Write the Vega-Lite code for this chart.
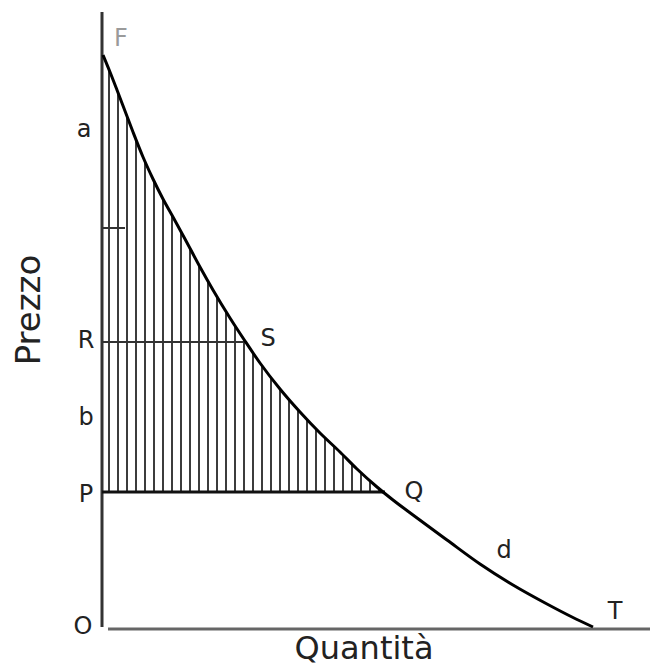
{
  "$schema": "https://vega.github.io/schema/vega-lite/v6.json",
  "width": 548,
  "height": 614,
  "autosize": {"type": "none"},
  "padding": {"left": 102, "top": 15, "right": 0, "bottom": 40},
  "background": "white",
  "config": {"view": {"stroke": null}},
  "datasets": {
    "curve": [
      {"x": 1, "y": 574}, {"x": 8, "y": 557}, {"x": 15, "y": 539}, {"x": 23, "y": 518},
      {"x": 31, "y": 497}, {"x": 41, "y": 472}, {"x": 51, "y": 450}, {"x": 61, "y": 430},
      {"x": 71, "y": 412}, {"x": 83, "y": 390}, {"x": 98, "y": 362},
      {"x": 111, "y": 339}, {"x": 128, "y": 311}, {"x": 143, "y": 288}, {"x": 158, "y": 266},
      {"x": 178, "y": 240}, {"x": 198, "y": 217}, {"x": 218, "y": 196}, {"x": 238, "y": 177},
      {"x": 255, "y": 160}, {"x": 275, "y": 142}, {"x": 291, "y": 129}, {"x": 311, "y": 114},
      {"x": 345, "y": 89}, {"x": 378, "y": 65}, {"x": 411, "y": 44},
      {"x": 445, "y": 25}, {"x": 470, "y": 12}, {"x": 491, "y": 2}
    ],
    "hatch": [
      {"x": 7, "y": 137, "yt": 559}, {"x": 16, "y": 137, "yt": 537}, {"x": 25, "y": 137, "yt": 513},
      {"x": 34, "y": 137, "yt": 490}, {"x": 43, "y": 137, "yt": 467}, {"x": 52, "y": 137, "yt": 448},
      {"x": 61, "y": 137, "yt": 430}, {"x": 70, "y": 137, "yt": 414}, {"x": 79, "y": 137, "yt": 397},
      {"x": 88, "y": 137, "yt": 381}, {"x": 97, "y": 137, "yt": 364}, {"x": 106, "y": 137, "yt": 348},
      {"x": 115, "y": 137, "yt": 332}, {"x": 124, "y": 137, "yt": 317}, {"x": 133, "y": 137, "yt": 303},
      {"x": 142, "y": 137, "yt": 289}, {"x": 151, "y": 137, "yt": 276}, {"x": 160, "y": 137, "yt": 263},
      {"x": 169, "y": 137, "yt": 251}, {"x": 178, "y": 137, "yt": 240}, {"x": 187, "y": 137, "yt": 229},
      {"x": 196, "y": 137, "yt": 219}, {"x": 205, "y": 137, "yt": 209}, {"x": 214, "y": 137, "yt": 200},
      {"x": 223, "y": 137, "yt": 191}, {"x": 232, "y": 137, "yt": 182}, {"x": 241, "y": 137, "yt": 174},
      {"x": 250, "y": 137, "yt": 165}, {"x": 259, "y": 137, "yt": 157}, {"x": 268, "y": 137, "yt": 149},
      {"x": 277, "y": 137, "yt": 141}
    ],
    "labels": [
      {"x": -18, "y": 499, "t": "a"},
      {"x": -16, "y": 288, "t": "R"},
      {"x": -16, "y": 211, "t": "b"},
      {"x": -16, "y": 134, "t": "P"},
      {"x": -19, "y": 2, "t": "O"},
      {"x": 166, "y": 290, "t": "S"},
      {"x": 312, "y": 137, "t": "Q"},
      {"x": 402, "y": 78, "t": "d"},
      {"x": 513, "y": 17, "t": "T"}
    ]
  },
  "encoding": {
    "x": {"field": "x", "type": "quantitative", "scale": {"domain": [0, 548], "nice": false, "zero": false}, "axis": null},
    "y": {"field": "y", "type": "quantitative", "scale": {"domain": [0, 614], "nice": false, "zero": false}, "axis": null}
  },
  "layer": [
    {
      "data": {"name": "hatch"},
      "mark": {"type": "rule", "color": "#3c3c3c", "strokeWidth": 2, "clip": false},
      "encoding": {"y2": {"field": "yt"}}
    },
    {
      "data": {"values": [{"x": 0, "y": 2, "yt": 617}]},
      "mark": {"type": "rule", "color": "#333333", "strokeWidth": 3, "clip": false},
      "encoding": {"y2": {"field": "yt"}}
    },
    {
      "data": {"values": [{"x": 0, "xe": 283, "y": 137}]},
      "mark": {"type": "rule", "color": "#111111", "strokeWidth": 3, "clip": false},
      "encoding": {"x2": {"field": "xe"}}
    },
    {
      "data": {"values": [{"x": 0, "xe": 143, "y": 287}]},
      "mark": {"type": "rule", "color": "#333333", "strokeWidth": 2, "clip": false},
      "encoding": {"x2": {"field": "xe"}}
    },
    {
      "data": {"values": [{"x": 1, "xe": 23, "y": 401}]},
      "mark": {"type": "rule", "color": "#333333", "strokeWidth": 2, "clip": false},
      "encoding": {"x2": {"field": "xe"}}
    },
    {
      "data": {"values": [{"x": 6, "xe": 548, "y": 0}]},
      "mark": {"type": "rule", "color": "#666666", "strokeWidth": 3, "clip": false},
      "encoding": {"x2": {"field": "xe"}}
    },
    {
      "data": {"name": "curve"},
      "mark": {"type": "line", "color": "#000000", "strokeWidth": 3, "interpolate": "monotone", "clip": false},
      "encoding": {}
    },
    {
      "data": {"name": "labels"},
      "mark": {"type": "text", "font": "DejaVu Sans", "fontSize": 24, "color": "#222222", "align": "center", "baseline": "middle", "clip": false},
      "encoding": {"text": {"field": "t"}}
    },
    {
      "data": {"values": [{"x": 19, "y": 590, "t": "F"}]},
      "mark": {"type": "text", "font": "DejaVu Sans", "fontSize": 24, "color": "#9a9a9a", "align": "center", "baseline": "middle", "clip": false},
      "encoding": {"text": {"field": "t"}}
    },
    {
      "data": {"values": [{"x": -72, "y": 319, "t": "Prezzo"}]},
      "mark": {"type": "text", "font": "DejaVu Sans", "fontSize": 34, "angle": 270, "color": "#222222", "align": "center", "baseline": "middle", "clip": false},
      "encoding": {"text": {"field": "t"}}
    },
    {
      "data": {"values": [{"x": 262, "y": -20, "t": "Quantità"}]},
      "mark": {"type": "text", "font": "DejaVu Sans", "fontSize": 32, "color": "#222222", "align": "center", "baseline": "middle", "clip": false},
      "encoding": {"text": {"field": "t"}}
    }
  ]
}
